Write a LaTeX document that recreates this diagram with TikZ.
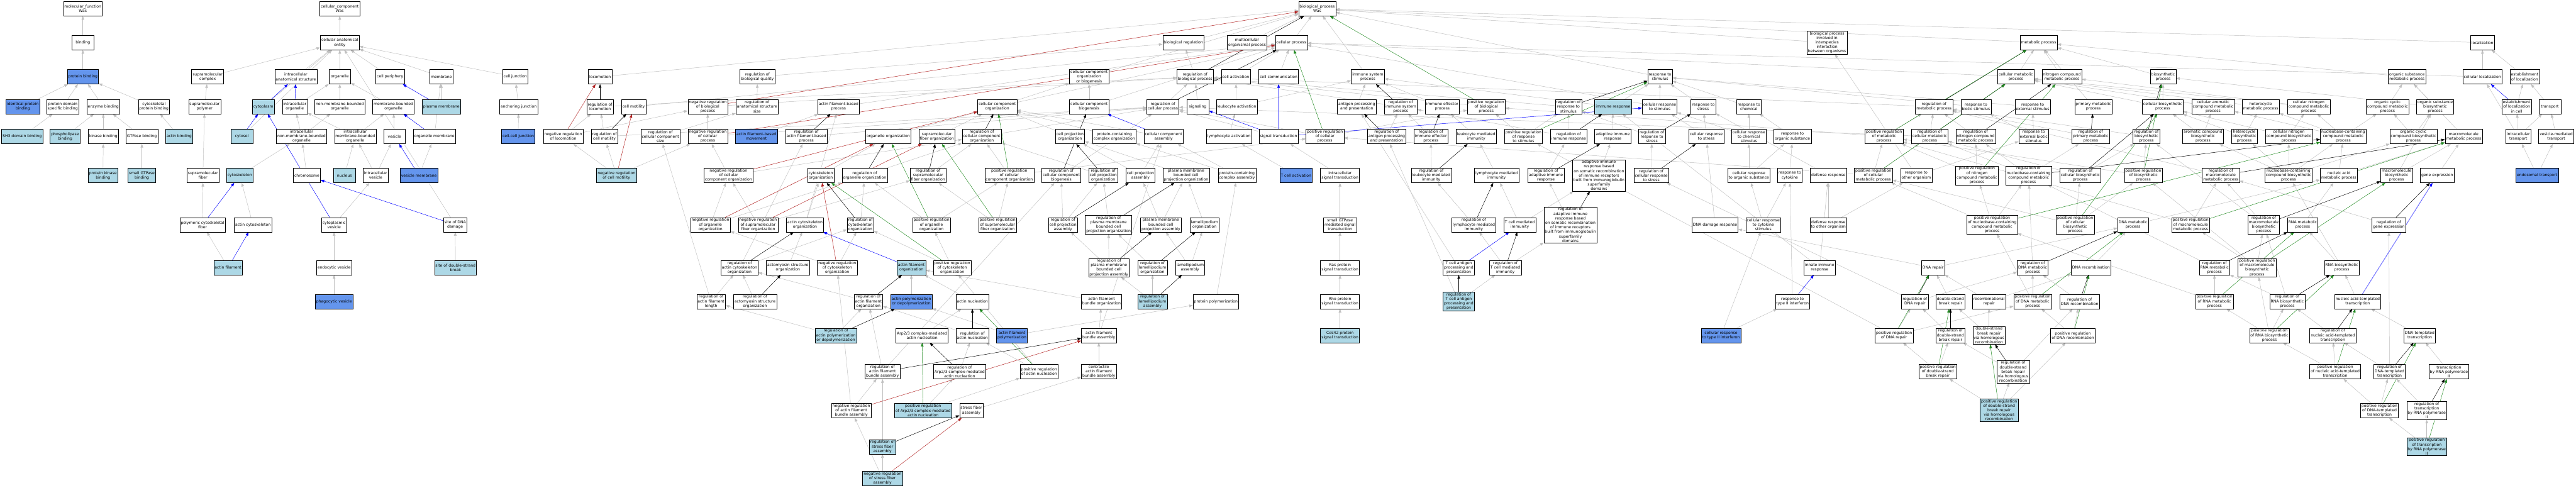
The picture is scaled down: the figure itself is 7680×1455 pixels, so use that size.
\documentclass[tikz,border=0pt]{standalone}
\usepackage{fontspec}
\setmainfont{DejaVu Sans}
\usepackage{xcolor}
\definecolor{hitblue}{HTML}{ADD8E6}
\definecolor{keyblue}{HTML}{6495ED}
\definecolor{isagray}{HTML}{C0C0C0}
\definecolor{partblue}{HTML}{0000FF}
\definecolor{negred}{HTML}{B22222}
\definecolor{posgreen}{HTML}{228B22}
\usepackage{tikz}
\usetikzlibrary{arrows.meta,backgrounds}

\begin{document}
\begin{tikzpicture}[x=1pt,y=-1pt,
  font=\fontsize{11.5}{13.5}\selectfont,
  term/.style={draw=black,fill=white,line width=0.9pt,align=center,
    inner xsep=3pt,inner ysep=2pt,minimum width=65pt,minimum height=43pt},
  hit/.style={term,fill=hitblue},
  key/.style={term,fill=keyblue},
  edge/.style={-{Triangle[length=11pt,width=8pt]},line width=0.9pt},
  isa/.style={edge,draw=isagray},
  partof/.style={edge,draw=partblue},
  reg/.style={edge,draw=black},
  negreg/.style={edge,draw=negred},
  posreg/.style={edge,draw=posgreen}]
\useasboundingbox (0,0) rectangle (7680,1455);
\node[term] (mf) at (247,26) {molecular\_function\\Was};
\node[term] (bind) at (247,127) {binding};
\node[key] (protbind) at (247,229) {protein binding};
\node[key] (identbind) at (68,318) {identical protein\\binding};
\node[term] (domainbind) at (187,318) {protein domain\\specific binding};
\node[term] (enzbind) at (308,318) {enzyme binding};
\node[term] (cytoskbind) at (459,318) {cytoskeletal\\protein binding};
\node[hit] (shbind) at (66,407) {SH3 domain binding};
\node[hit] (phosbind) at (194,407) {phospholipase\\binding};
\node[term] (kinbind) at (308,407) {kinase binding};
\node[term] (gtpbind) at (423,407) {GTPase binding};
\node[hit] (actbind) at (534,407) {actin binding};
\node[hit] (pkbind) at (307,523) {protein kinase\\binding};
\node[hit] (sgtpbind) at (423,523) {small GTPase\\binding};
\node[term] (cc) at (1013,26) {cellular\_component\\Was};
\node[term] (cae) at (1013,127) {cellular anatomical\\entity};
\node[term] (smcomplex) at (619,229) {supramolecular\\complex};
\node[term] (ias) at (882,229) {intracellular\\anatomical structure};
\node[term] (organelle) at (1013,229) {organelle};
\node[term] (periphery) at (1163,229) {cell periphery};
\node[term] (membrane) at (1316,229) {membrane};
\node[term] (junction) at (1536,229) {cell junction};
\node[term] (smpolymer) at (610,318) {supramolecular\\polymer};
\node[hit] (cytoplasm) at (785,318) {cytoplasm};
\node[term] (iorganelle) at (879,318) {intracellular\\organelle};
\node[term] (nmborg) at (1013,318) {non-membrane-bounded\\organelle};
\node[term] (mborg) at (1173,318) {membrane-bounded\\organelle};
\node[hit] (plasmamem) at (1316,318) {plasma membrane};
\node[term] (anchjunc) at (1546,318) {anchoring junction};
\node[hit] (cytosol) at (721,407) {cytosol};
\node[term] (inmborg) at (899,407) {intracellular\\non-membrane-bounded\\organelle};
\node[term] (imborg) at (1059,407) {intracellular\\membrane-bounded\\organelle};
\node[term] (vesicle) at (1176,407) {vesicle};
\node[term] (orgmem) at (1295,407) {organelle membrane};
\node[key] (ccjunc) at (1545,407) {cell-cell junction};
\node[term] (smfiber) at (605,523) {supramolecular\\fiber};
\node[hit] (cytoskel) at (715,523) {cytoskeleton};
\node[term] (chromosome) at (915,523) {chromosome};
\node[hit] (nucleus) at (1027,523) {nucleus};
\node[term] (ivesicle) at (1120,523) {intracellular\\vesicle};
\node[key] (vesmem) at (1249,523) {vesicle membrane};
\node[term] (pcfiber) at (604,670) {polymeric cytoskeletal\\fiber};
\node[term] (actcytosk) at (754,670) {actin cytoskeleton};
\node[term] (cpvesicle) at (996,670) {cytoplasmic\\vesicle};
\node[term] (dnadamsite) at (1357,670) {site of DNA\\damage};
\node[hit] (actfil) at (680,798) {actin filament};
\node[term] (endovesicle) at (996,798) {endocytic vesicle};
\node[hit] (dsbsite) at (1358,798) {site of double-strand\\break};
\node[key] (phagovesicle) at (996,899) {phagocytic vesicle};
\node[term] (bp) at (3927,26) {biological\_process\\Was};
\node[term] (bioreg) at (3528,127) {biological regulation};
\node[term] (multiorg) at (3718,127) {multicellular\\organismal process};
\node[term] (cellproc) at (3850,127) {cellular process};
\node[term] (interspecies) at (5447,127) {biological process\\involved in\\interspecies\\interaction\\between organisms};
\node[term] (metab) at (6078,127) {metabolic process};
\node[term] (localization) at (7401,127) {localization};
\node[term] (locomotion) at (1789,229) {locomotion};
\node[term] (regbioqual) at (2258,229) {regulation of\\biological quality};
\node[term] (ccob) at (3247,229) {cellular component\\organization\\or biogenesis};
\node[term] (regbp) at (3563,229) {regulation of\\biological process};
\node[term] (cellact) at (3684,229) {cell activation};
\node[term] (cellcomm) at (3812,229) {cell communication};
\node[term] (immsys) at (4078,229) {immune system\\process};
\node[term] (respstim) at (4949,229) {response to\\stimulus};
\node[term] (cellmetab) at (6010,229) {cellular metabolic\\process};
\node[term] (nitmetab) at (6147,229) {nitrogen compound\\metabolic process};
\node[term] (biosynth) at (6449,229) {biosynthetic\\process};
\node[term] (orgsubmetab) at (7176,229) {organic substance\\metabolic process};
\node[term] (cellloc) at (7401,229) {cellular localization};
\node[term] (estloc) at (7527,229) {establishment\\of localization};
\node[term] (reglocom) at (1789,318) {regulation of\\locomotion};
\node[term] (cellmot) at (1889,318) {cell motility};
\node[term] (negregbp) at (2110,318) {negative regulation\\of biological\\process};
\node[term] (regassize) at (2257,318) {regulation of\\anatomical structure\\size};
\node[term] (afbproc) at (2500,318) {actin filament-based\\process};
\node[term] (cco) at (2973,318) {cellular component\\organization};
\node[term] (ccbiog) at (3247,318) {cellular component\\biogenesis};
\node[term] (regcp) at (3467,318) {regulation of\\cellular process};
\node[term] (signaling) at (3571,318) {signaling};
\node[term] (leukact) at (3687,318) {leukocyte activation};
\node[term] (antigen) at (4045,318) {antigen processing\\and presentation};
\node[term] (regimmsys) at (4176,318) {regulation of\\immune system\\process};
\node[term] (immeff) at (4300,318) {immune effector\\process};
\node[term] (posregbp) at (4431,318) {positive regulation\\of biological\\process};
\node[term] (regrespstim) at (4676,318) {regulation of\\response to\\stimulus};
\node[hit] (immresp) at (4809,318) {immune response};
\node[term] (cellrespstim) at (4948,318) {cellular response\\to stimulus};
\node[term] (respstress) at (5078,318) {response to\\stress};
\node[term] (respchem) at (5214,318) {response to\\chemical};
\node[term] (regmetab) at (5766,318) {regulation of\\metabolic process};
\node[term] (respbiotic) at (5891,318) {response to\\biotic stimulus};
\node[term] (respext) at (6060,318) {response to\\external stimulus};
\node[term] (primmetab) at (6241,318) {primary metabolic\\process};
\node[term] (cellbiosynth) at (6448,318) {cellular biosynthetic\\process};
\node[term] (arommetab) at (6598,318) {cellular aromatic\\compound metabolic\\process};
\node[term] (hetmetab) at (6740,318) {heterocycle\\metabolic process};
\node[term] (cnitmetab) at (6883,318) {cellular nitrogen\\compound metabolic\\process};
\node[term] (cycmetab) at (7118,318) {organic cyclic\\compound metabolic\\process};
\node[term] (orgsubbiosynth) at (7260,318) {organic substance\\biosynthetic\\process};
\node[term] (estloccell) at (7503,318) {establishment\\of localization\\in cell};
\node[term] (transport) at (7602,318) {transport};
\node[term] (negreglocom) at (1679,407) {negative regulation\\of locomotion};
\node[term] (regcellmot) at (1802,407) {regulation of\\cell motility};
\node[term] (regccsize) at (1969,407) {regulation of\\cellular component\\size};
\node[term] (negregcp) at (2110,407) {negative regulation\\of cellular\\process};
\node[key] (afbmove) at (2255,407) {actin filament-based\\movement};
\node[term] (regafbproc) at (2404,407) {regulation of\\actin filament-based\\process};
\node[term] (orgorg) at (2648,407) {organelle organization};
\node[term] (smforg) at (2793,407) {supramolecular\\fiber organization};
\node[term] (regcco) at (2927,407) {regulation of\\cellular component\\organization};
\node[term] (cporg) at (3190,407) {cell projection\\organization};
\node[term] (pccorg) at (3322,407) {protein-containing\\complex organization};
\node[term] (ccassembly) at (3469,407) {cellular component\\assembly};
\node[term] (lymphact) at (3664,407) {lymphocyte activation};
\node[term] (sigtrans) at (3812,407) {signal transduction};
\node[term] (posregcp) at (3950,407) {positive regulation\\of cellular\\process};
\node[term] (regantigen) at (4134,407) {regulation of\\antigen processing\\and presentation};
\node[term] (regimmeff) at (4266,407) {regulation of\\immune effector\\process};
\node[term] (leukimm) at (4401,407) {leukocyte mediated\\immunity};
\node[term] (posregrespstim) at (4542,407) {positive regulation\\of response\\to stimulus};
\node[term] (regimmresp) at (4677,407) {regulation of\\immune response};
\node[term] (adaptimm) at (4808,407) {adaptive immune\\response};
\node[term] (regrespstress) at (4925,407) {regulation of\\response to\\stress};
\node[term] (cellrespstress) at (5087,407) {cellular response\\to stress};
\node[term] (cellrespchem) at (5214,407) {cellular response\\to chemical\\stimulus};
\node[term] (resporgsub) at (5344,407) {response to\\organic substance};
\node[term] (posregmetab) at (5617,407) {positive regulation\\of metabolic\\process};
\node[term] (regcellmetab) at (5753,407) {regulation of\\cellular metabolic\\process};
\node[term] (regnitmetab) at (5890,407) {regulation of\\nitrogen compound\\metabolic process};
\node[term] (respextbiotic) at (6063,407) {response to\\external biotic\\stimulus};
\node[term] (regprimmetab) at (6233,407) {regulation of\\primary metabolic\\process};
\node[term] (regbiosynth) at (6399,407) {regulation of\\biosynthetic\\process};
\node[term] (aromsynth) at (6568,407) {aromatic compound\\biosynthetic\\process};
\node[term] (hetsynth) at (6691,407) {heterocycle\\biosynthetic\\process};
\node[term] (cnitsynth) at (6824,407) {cellular nitrogen\\compound biosynthetic\\process};
\node[term] (nbmetab) at (6986,407) {nucleobase-containing\\compound metabolic\\process};
\node[term] (cycsynth) at (7195,407) {organic cyclic\\compound biosynthetic\\process};
\node[term] (macrometab) at (7345,407) {macromolecule\\metabolic process};
\node[term] (inttransport) at (7508,407) {intracellular\\transport};
\node[term] (vestransport) at (7621,407) {vesicle-mediated\\transport};
\node[hit] (negregcellmot) at (1838,523) {negative regulation\\of cell motility};
\node[term] (negregcco) at (2172,523) {negative regulation\\of cellular\\component organization};
\node[term] (cytoskorg) at (2447,523) {cytoskeleton\\organization};
\node[term] (regorgorg) at (2578,523) {regulation of\\organelle organization};
\node[term] (regsmforg) at (2767,523) {regulation of\\supramolecular\\fiber organization};
\node[term] (posregcco) at (3009,523) {positive regulation\\of cellular\\component organization};
\node[term] (regccbiog) at (3164,523) {regulation of\\cellular component\\biogenesis};
\node[term] (regcporg) at (3289,523) {regulation of\\cell projection\\organization};
\node[term] (cpassembly) at (3400,523) {cell projection\\assembly};
\node[term] (pmbcporg) at (3536,523) {plasma membrane\\bounded cell\\projection organization};
\node[term] (pccassembly) at (3688,523) {protein-containing\\complex assembly};
\node[key] (tcellact) at (3864,523) {T cell activation};
\node[term] (intsigtrans) at (3995,523) {intracellular\\signal transduction};
\node[term] (regleukimm) at (4267,523) {regulation of\\leukocyte mediated\\immunity};
\node[term] (lymphimm) at (4462,523) {lymphocyte mediated\\immunity};
\node[term] (regadaptimm) at (4609,523) {regulation of\\adaptive immune\\response};
\node[term] (adaptig) at (4767,523) {adaptive immune\\response based\\on somatic recombination\\of immune receptors\\built from immunoglobulin\\superfamily\\domains};
\node[term] (regcellrespstress) at (4923,523) {regulation of\\cellular response\\to stress};
\node[term] (cellresporgsub) at (5214,523) {cellular response\\to organic substance};
\node[term] (respcytokine) at (5336,523) {response to\\cytokine};
\node[term] (defresp) at (5451,523) {defense response};
\node[term] (posregcellmetab) at (5585,523) {positive regulation\\of cellular\\metabolic process};
\node[term] (respotherorg) at (5713,523) {response to\\other organism};
\node[term] (posregnitmetab) at (5894,523) {positive regulation\\of nitrogen\\compound metabolic\\process};
\node[term] (regnbmetab) at (6048,523) {regulation of\\nucleobase-containing\\compound metabolic\\process};
\node[term] (regcellbiosynth) at (6202,523) {regulation of\\cellular biosynthetic\\process};
\node[term] (posregbiosynth) at (6390,523) {positive regulation\\of biosynthetic\\process};
\node[term] (regmacrometab) at (6621,523) {regulation of\\macromolecule\\metabolic process};
\node[term] (nbsynth) at (6823,523) {nucleobase-containing\\compound biosynthetic\\process};
\node[term] (nucmetab) at (6973,523) {nucleic acid\\metabolic process};
\node[term] (macrosynth) at (7145,523) {macromolecule\\biosynthetic\\process};
\node[term] (geneexpr) at (7266,523) {gene expression};
\node[key] (endotransport) at (7564,523) {endosomal transport};
\node[term] (negregorgorg) at (2118,670) {negative regulation\\of organelle\\organization};
\node[term] (negregsmforg) at (2260,670) {negative regulation\\of supramolecular\\fiber organization};
\node[term] (actcytoskorg) at (2400,670) {actin cytoskeleton\\organization};
\node[term] (regcytoskorg) at (2565,670) {regulation of\\cytoskeleton\\organization};
\node[term] (posregorgorg) at (2777,670) {positive regulation\\of organelle\\organization};
\node[term] (posregsmforg) at (2974,670) {positive regulation\\of supramolecular\\fiber organization};
\node[term] (regcpassembly) at (3169,670) {regulation of\\cell projection\\assembly};
\node[term] (regpmbcporg) at (3305,670) {regulation of\\plasma membrane\\bounded cell\\projection organization};
\node[term] (pmbcpassembly) at (3461,670) {plasma membrane\\bounded cell\\projection assembly};
\node[term] (lamorg) at (3591,670) {lamellipodium\\organization};
\node[term] (smallgtp) at (3995,670) {small GTPase\\mediated signal\\transduction};
\node[term] (reglymphimm) at (4394,670) {regulation of\\lymphocyte mediated\\immunity};
\node[term] (tcellimm) at (4531,670) {T cell mediated\\immunity};
\node[term] (regadaptig) at (4682,671) {regulation of\\adaptive immune\\response based\\on somatic recombination\\of immune receptors\\built from immunoglobulin\\superfamily\\domains};
\node[term] (dnadamresp) at (5113,670) {DNA damage response};
\node[term] (cellrespcytokine) at (5257,670) {cellular response\\to cytokine\\stimulus};
\node[term] (defrespother) at (5451,670) {defense response\\to other organism};
\node[term] (posregnbmetab) at (5939,670) {positive regulation\\of nucleobase-containing\\compound metabolic\\process};
\node[term] (posregcellbiosynth) at (6187,670) {positive regulation\\of cellular\\biosynthetic\\process};
\node[term] (dnametab) at (6359,670) {DNA metabolic\\process};
\node[term] (posregmacrometab) at (6531,670) {positive regulation\\of macromolecule\\metabolic process};
\node[term] (regmacrosynth) at (6749,670) {regulation of\\macromolecule\\biosynthetic\\process};
\node[term] (rnametab) at (6865,670) {RNA metabolic\\process};
\node[term] (reggeneexpr) at (7122,670) {regulation of\\gene expression};
\node[term] (regactcytoskorg) at (2205,798) {regulation of\\actin cytoskeleton\\organization};
\node[term] (actomyorg) at (2349,798) {actomyosin structure\\organization};
\node[term] (negregcytoskorg) at (2496,798) {negative regulation\\of cytoskeleton\\organization};
\node[hit] (actfilorg) at (2717,798) {actin filament\\organization};
\node[term] (posregcytoskorg) at (2839,798) {positive regulation\\of cytoskeleton\\organization};
\node[term] (regpmbcpassembly) at (3306,798) {regulation of\\plasma membrane\\bounded cell\\projection assembly};
\node[term] (reglamorg) at (3436,798) {regulation of\\lamellipodium\\organization};
\node[term] (lamassembly) at (3548,798) {lamellipodium\\assembly};
\node[term] (rasst) at (3995,798) {Ras protein\\signal transduction};
\node[term] (tcellantigen) at (4349,798) {T cell antigen\\processing and\\presentation};
\node[term] (regtcellimm) at (4488,798) {regulation of\\T cell mediated\\immunity};
\node[term] (innateimm) at (5425,798) {innate immune\\response};
\node[term] (dnarepair) at (5763,798) {DNA repair};
\node[term] (regdnametab) at (6060,798) {regulation of\\DNA metabolic\\process};
\node[term] (dnarecomb) at (6234,798) {DNA recombination};
\node[term] (regrnametab) at (6602,798) {regulation of\\RNA metabolic\\process};
\node[term] (posregmacrosynth) at (6729,798) {positive regulation\\of macromolecule\\biosynthetic\\process};
\node[term] (rnasynth) at (6982,798) {RNA biosynthetic\\process};
\node[term] (regactfillen) at (2120,899) {regulation of\\actin filament\\length};
\node[term] (regactomyorg) at (2251,899) {regulation of\\actomyosin structure\\organization};
\node[term] (regactfilorg) at (2589,899) {regulation of\\actin filament\\organization};
\node[key] (actpoly) at (2717,899) {actin polymerization\\or depolymerization};
\node[term] (actnuc) at (2899,899) {actin nucleation};
\node[term] (afbundleorg) at (3284,899) {actin filament\\bundle organization};
\node[hit] (reglamassembly) at (3436,899) {regulation of\\lamellipodium\\assembly};
\node[term] (protpoly) at (3625,899) {protein polymerization};
\node[term] (rhost) at (3995,899) {Rho protein\\signal transduction};
\node[hit] (regtcellantigen) at (4349,899) {regulation of\\T cell antigen\\processing and\\presentation};
\node[term] (resptypeII) at (5344,899) {response to\\type II interferon};
\node[term] (regdnarepair) at (5709,899) {regulation of\\DNA repair};
\node[term] (dsbrepair) at (5815,899) {double-strand\\break repair};
\node[term] (recombrepair) at (5930,899) {recombinational\\repair};
\node[term] (posregdnametab) at (6060,899) {positive regulation\\of DNA metabolic\\process};
\node[term] (regdnarecomb) at (6200,899) {regulation of\\DNA recombination};
\node[term] (posregrnametab) at (6602,899) {positive regulation\\of RNA metabolic\\process};
\node[term] (regrnasynth) at (6819,899) {regulation of\\RNA biosynthetic\\process};
\node[term] (natranscr) at (7029,899) {nucleic acid-templated\\transcription};
\node[hit] (regactpoly) at (2492,1000) {regulation of\\actin polymerization\\or depolymerization};
\node[term] (arpnuc) at (2749,1000) {Arp2/3 complex-mediated\\actin nucleation};
\node[term] (regactnuc) at (2899,1000) {regulation of\\actin nucleation};
\node[key] (actfilpoly) at (3017,1000) {actin filament\\polymerization};
\node[term] (afbundleassembly) at (3276,1000) {actin filament\\bundle assembly};
\node[hit] (cdc42st) at (3995,1000) {Cdc42 protein\\signal transduction};
\node[key] (cellresptypeII) at (5131,1000) {cellular response\\to type II interferon};
\node[term] (posregdnarepair) at (5647,1000) {positive regulation\\of DNA repair};
\node[term] (regdsbrepair) at (5815,1000) {regulation of\\double-strand\\break repair};
\node[term] (dsbhr) at (5930,1000) {double-strand\\break repair\\via homologous\\recombination};
\node[term] (posregdnarecomb) at (6180,1000) {positive regulation\\of DNA recombination};
\node[term] (posregrnasynth) at (6766,1000) {positive regulation\\of RNA biosynthetic\\process};
\node[term] (regnatranscr) at (6955,1000) {regulation of\\nucleic acid-templated\\transcription};
\node[term] (dnatranscr) at (7214,1000) {DNA-templated\\transcription};
\node[term] (regafbundle) at (2631,1108) {regulation of\\actin filament\\bundle assembly};
\node[term] (regarpnuc) at (2861,1108) {regulation of\\Arp2/3 complex-mediated\\actin nucleation};
\node[term] (posregactnuc) at (3098,1108) {positive regulation\\of actin nucleation};
\node[term] (contrbundle) at (3276,1108) {contractile\\actin filament\\bundle assembly};
\node[term] (posregdsbrepair) at (5777,1108) {positive regulation\\of double-strand\\break repair};
\node[term] (regdsbhr) at (6002,1108) {regulation of\\double-strand\\break repair\\via homologous\\recombination};
\node[term] (posregnatranscr) at (6962,1108) {positive regulation\\of nucleic acid-templated\\transcription};
\node[term] (regdnatranscr) at (7124,1108) {regulation of\\DNA-templated\\transcription};
\node[term] (rnapol2) at (7301,1108) {transcription\\by RNA polymerase\\II};
\node[term] (negregafbundle) at (2538,1224) {negative regulation\\of actin filament\\bundle assembly};
\node[hit] (posregarpnuc) at (2752,1224) {positive regulation\\of Arp2/3 complex-mediated\\actin nucleation};
\node[term] (stressfiber) at (2896,1224) {stress fiber\\assembly};
\node[hit] (posregdsbhr) at (5960,1223) {positive regulation\\of double-strand\\break repair\\via homologous\\recombination};
\node[term] (posregdnatranscr) at (7094,1224) {positive regulation\\of DNA-templated\\transcription};
\node[term] (regrnapol2) at (7235,1224) {regulation of\\transcription\\by RNA polymerase\\II};
\node[hit] (regstressfiber) at (2631,1332) {regulation of\\stress fiber\\assembly};
\node[hit] (posregrnapol2) at (7235,1332) {positive regulation\\of transcription\\by RNA polymerase\\II};
\node[hit] (negregstressfiber) at (2631,1426) {negative regulation\\of stress fiber\\assembly};
\begin{scope}[on background layer]
\fill[white] (0,0) rectangle (7680,1455);
\draw[isa] (bind) -- (mf);
\draw[isa] (protbind) -- (bind);
\draw[isa] (identbind) -- (protbind);
\draw[isa] (domainbind) -- (protbind);
\draw[isa] (enzbind) -- (protbind);
\draw[isa] (cytoskbind) -- (protbind);
\draw[isa] (shbind) -- (domainbind);
\draw[isa] (phosbind) -- (enzbind);
\draw[isa] (kinbind) -- (enzbind);
\draw[isa] (gtpbind) -- (enzbind);
\draw[isa] (actbind) -- (cytoskbind);
\draw[isa] (pkbind) -- (kinbind);
\draw[isa] (sgtpbind) -- (gtpbind);
\draw[isa] (cae) -- (cc);
\draw[isa] (smcomplex) -- (cae);
\draw[isa] (ias) -- (cae);
\draw[isa] (organelle) -- (cae);
\draw[isa] (periphery) -- (cae);
\draw[isa] (membrane) -- (cae);
\draw[isa] (junction) -- (cae);
\draw[isa] (cytoplasm) -- (cae);
\draw[isa] (cytosol) -- (cae);
\draw[isa] (iorganelle) -- (organelle);
\draw[isa] (nmborg) -- (organelle);
\draw[isa] (mborg) -- (organelle);
\draw[isa] (plasmamem) -- (membrane);
\draw[isa] (smpolymer) -- (smcomplex);
\draw[isa] (inmborg) -- (iorganelle);
\draw[isa] (inmborg) -- (nmborg);
\draw[isa] (imborg) -- (iorganelle);
\draw[isa] (imborg) -- (mborg);
\draw[isa] (vesicle) -- (mborg);
\draw[isa] (orgmem) -- (membrane);
\draw[isa] (smfiber) -- (smpolymer);
\draw[isa] (cytoskel) -- (inmborg);
\draw[isa] (chromosome) -- (inmborg);
\draw[isa] (nucleus) -- (imborg);
\draw[isa] (ivesicle) -- (vesicle);
\draw[isa] (ivesicle) -- (imborg);
\draw[isa] (vesmem) -- (orgmem);
\draw[isa] (pcfiber) -- (smfiber);
\draw[isa] (actcytosk) -- (cytoskel);
\draw[isa] (cpvesicle) -- (ivesicle);
\draw[isa] (actfil) -- (pcfiber);
\draw[isa] (endovesicle) -- (cpvesicle);
\draw[isa] (phagovesicle) -- (endovesicle);
\draw[isa] (dnadamsite) -- (cae);
\draw[isa] (dsbsite) -- (dnadamsite);
\draw[isa] (anchjunc) -- (junction);
\draw[isa] (ccjunc) -- (anchjunc);
\draw[isa] (bioreg) -- (bp);
\draw[isa] (multiorg) -- (bp);
\draw[isa] (cellproc) -- (bp);
\draw[isa] (immsys) -- (bp);
\draw[isa] (respstim) -- (bp);
\draw[isa] (metab) -- (bp);
\draw[isa] (localization) -- (bp);
\draw[isa] (locomotion) -- (bp);
\draw[isa] (ccob) -- (bp);
\draw[isa] (interspecies) -- (bp);
\draw[isa] (regbioqual) -- (bioreg);
\draw[isa] (regbp) -- (bioreg);
\draw[isa] (regassize) -- (regbioqual);
\draw[isa] (regccsize) -- (regassize);
\draw[isa] (reglocom) -- (regbp);
\draw[isa] (cellmot) -- (cellproc);
\draw[isa] (negreglocom) -- (reglocom);
\draw[isa] (negreglocom) -- (negregbp);
\draw[isa] (regcellmot) -- (reglocom);
\draw[isa] (regcellmot) -- (regcp);
\draw[isa] (negregcellmot) -- (negreglocom);
\draw[isa] (negregcellmot) -- (regcellmot);
\draw[isa] (negregcellmot) -- (negregcp);
\draw[isa] (negregbp) -- (regbp);
\draw[isa] (negregcp) -- (negregbp);
\draw[isa] (negregcp) -- (regcp);
\draw[isa] (afbproc) -- (cellproc);
\draw[isa] (afbmove) -- (afbproc);
\draw[isa] (regafbproc) -- (regcp);
\draw[isa] (cco) -- (ccob);
\draw[isa] (cco) -- (cellproc);
\draw[isa] (ccbiog) -- (ccob);
\draw[isa] (ccbiog) -- (cellproc);
\draw[isa] (regcp) -- (regbp);
\draw[isa] (signaling) -- (regbp);
\draw[isa] (cellact) -- (cellproc);
\draw[isa] (cellcomm) -- (cellproc);
\draw[isa] (leukact) -- (cellact);
\draw[isa] (leukact) -- (immsys);
\draw[isa] (lymphact) -- (leukact);
\draw[isa] (tcellact) -- (lymphact);
\draw[isa] (sigtrans) -- (regcp);
\draw[isa] (intsigtrans) -- (sigtrans);
\draw[isa] (smallgtp) -- (intsigtrans);
\draw[isa] (rasst) -- (smallgtp);
\draw[isa] (rhost) -- (rasst);
\draw[isa] (cdc42st) -- (rhost);
\draw[isa] (orgorg) -- (cco);
\draw[isa] (smforg) -- (cco);
\draw[isa] (cporg) -- (cco);
\draw[isa] (pccorg) -- (cco);
\draw[isa] (ccassembly) -- (cco);
\draw[isa] (regcco) -- (regcp);
\draw[isa] (negregcco) -- (negregcp);
\draw[isa] (negregcco) -- (regcco);
\draw[isa] (posregcco) -- (regcco);
\draw[isa] (posregcco) -- (posregcp);
\draw[isa] (regccbiog) -- (regcp);
\draw[isa] (cytoskorg) -- (orgorg);
\draw[isa] (regorgorg) -- (regcco);
\draw[isa] (regsmforg) -- (regcco);
\draw[isa] (regcporg) -- (regcco);
\draw[isa] (cpassembly) -- (cporg);
\draw[isa] (cpassembly) -- (ccassembly);
\draw[isa] (pmbcporg) -- (cporg);
\draw[isa] (pccassembly) -- (pccorg);
\draw[isa] (pccassembly) -- (ccassembly);
\draw[isa] (negregorgorg) -- (negregcco);
\draw[isa] (negregorgorg) -- (regorgorg);
\draw[isa] (negregsmforg) -- (negregcco);
\draw[isa] (negregsmforg) -- (regsmforg);
\draw[isa] (actcytoskorg) -- (cytoskorg);
\draw[isa] (actcytoskorg) -- (afbproc);
\draw[isa] (regcytoskorg) -- (regorgorg);
\draw[isa] (posregorgorg) -- (regorgorg);
\draw[isa] (posregorgorg) -- (posregcco);
\draw[isa] (posregsmforg) -- (regsmforg);
\draw[isa] (posregsmforg) -- (posregcco);
\draw[isa] (regcpassembly) -- (regcporg);
\draw[isa] (regcpassembly) -- (regccbiog);
\draw[isa] (regpmbcporg) -- (regcporg);
\draw[isa] (pmbcpassembly) -- (cpassembly);
\draw[isa] (pmbcpassembly) -- (pmbcporg);
\draw[isa] (lamorg) -- (pmbcporg);
\draw[isa] (regactcytoskorg) -- (regcytoskorg);
\draw[isa] (regactcytoskorg) -- (regafbproc);
\draw[isa] (actomyorg) -- (actcytoskorg);
\draw[isa] (negregcytoskorg) -- (regcytoskorg);
\draw[isa] (negregcytoskorg) -- (negregorgorg);
\draw[isa] (posregcytoskorg) -- (regcytoskorg);
\draw[isa] (posregcytoskorg) -- (posregorgorg);
\draw[isa] (regpmbcpassembly) -- (regpmbcporg);
\draw[isa] (regpmbcpassembly) -- (regcpassembly);
\draw[isa] (reglamorg) -- (regpmbcporg);
\draw[isa] (lamassembly) -- (lamorg);
\draw[isa] (lamassembly) -- (pmbcpassembly);
\draw[isa] (regactfillen) -- (regactcytoskorg);
\draw[isa] (regactfillen) -- (regccsize);
\draw[isa] (regactomyorg) -- (regactcytoskorg);
\draw[isa] (regactfilorg) -- (regactcytoskorg);
\draw[isa] (actpoly) -- (actfilorg);
\draw[isa] (actnuc) -- (actfilorg);
\draw[isa] (afbundleorg) -- (actfilorg);
\draw[isa] (reglamassembly) -- (regpmbcpassembly);
\draw[isa] (reglamassembly) -- (reglamorg);
\draw[isa] (protpoly) -- (pccassembly);
\draw[isa] (regactpoly) -- (regactfillen);
\draw[isa] (regactpoly) -- (regactfilorg);
\draw[isa] (arpnuc) -- (actnuc);
\draw[isa] (regactnuc) -- (regactfilorg);
\draw[isa] (actfilpoly) -- (actpoly);
\draw[isa] (actfilpoly) -- (protpoly);
\draw[isa] (afbundleassembly) -- (afbundleorg);
\draw[isa] (afbundleassembly) -- (ccassembly);
\draw[isa] (regafbundle) -- (regactfilorg);
\draw[isa] (regafbundle) -- (regccbiog);
\draw[isa] (regarpnuc) -- (regactnuc);
\draw[isa] (posregactnuc) -- (regactnuc);
\draw[isa] (posregactnuc) -- (posregcytoskorg);
\draw[isa] (contrbundle) -- (afbundleassembly);
\draw[isa] (negregafbundle) -- (regafbundle);
\draw[isa] (negregafbundle) -- (negregcytoskorg);
\draw[isa] (posregarpnuc) -- (regarpnuc);
\draw[isa] (posregarpnuc) -- (posregactnuc);
\draw[isa] (stressfiber) -- (contrbundle);
\draw[isa] (regstressfiber) -- (regafbundle);
\draw[isa] (negregstressfiber) -- (regstressfiber);
\draw[isa] (negregstressfiber) -- (negregafbundle);
\draw[isa] (antigen) -- (immsys);
\draw[isa] (regimmsys) -- (regbp);
\draw[isa] (immeff) -- (immsys);
\draw[isa] (posregbp) -- (regbp);
\draw[isa] (regrespstim) -- (regbp);
\draw[isa] (immresp) -- (immsys);
\draw[isa] (immresp) -- (respstim);
\draw[isa] (cellrespstim) -- (respstim);
\draw[isa] (cellrespstim) -- (cellproc);
\draw[isa] (respstress) -- (respstim);
\draw[isa] (posregcp) -- (regcp);
\draw[isa] (posregcp) -- (posregbp);
\draw[isa] (regantigen) -- (regimmsys);
\draw[isa] (regimmeff) -- (regimmsys);
\draw[isa] (leukimm) -- (immeff);
\draw[isa] (posregrespstim) -- (regrespstim);
\draw[isa] (posregrespstim) -- (posregbp);
\draw[isa] (regimmresp) -- (regrespstim);
\draw[isa] (regimmresp) -- (regimmsys);
\draw[isa] (adaptimm) -- (immresp);
\draw[isa] (regrespstress) -- (regrespstim);
\draw[isa] (cellrespstress) -- (respstress);
\draw[isa] (cellrespstress) -- (cellrespstim);
\draw[isa] (regleukimm) -- (regimmeff);
\draw[isa] (lymphimm) -- (leukimm);
\draw[isa] (regadaptimm) -- (regimmresp);
\draw[isa] (adaptig) -- (adaptimm);
\draw[isa] (regcellrespstress) -- (regrespstress);
\draw[isa] (reglymphimm) -- (regleukimm);
\draw[isa] (tcellimm) -- (lymphimm);
\draw[isa] (tcellimm) -- (adaptig);
\draw[isa] (regadaptig) -- (regadaptimm);
\draw[isa] (dnadamresp) -- (cellrespstress);
\draw[isa] (tcellantigen) -- (antigen);
\draw[isa] (regtcellimm) -- (reglymphimm);
\draw[isa] (regtcellimm) -- (regadaptig);
\draw[isa] (regtcellantigen) -- (regtcellimm);
\draw[isa] (regtcellantigen) -- (regantigen);
\draw[isa] (respchem) -- (respstim);
\draw[isa] (respbiotic) -- (respstim);
\draw[isa] (respext) -- (respstim);
\draw[isa] (cellrespchem) -- (respchem);
\draw[isa] (cellrespchem) -- (cellrespstim);
\draw[isa] (resporgsub) -- (respchem);
\draw[isa] (respextbiotic) -- (respext);
\draw[isa] (respextbiotic) -- (respbiotic);
\draw[isa] (cellresporgsub) -- (cellrespchem);
\draw[isa] (cellresporgsub) -- (resporgsub);
\draw[isa] (respcytokine) -- (resporgsub);
\draw[isa] (defresp) -- (respstress);
\draw[isa] (respotherorg) -- (respextbiotic);
\draw[isa] (respotherorg) -- (interspecies);
\draw[isa] (cellrespcytokine) -- (respcytokine);
\draw[isa] (cellrespcytokine) -- (cellresporgsub);
\draw[isa] (defrespother) -- (defresp);
\draw[isa] (defrespother) -- (respotherorg);
\draw[isa] (innateimm) -- (defresp);
\draw[isa] (innateimm) -- (immresp);
\draw[isa] (resptypeII) -- (respcytokine);
\draw[isa] (cellresptypeII) -- (resptypeII);
\draw[isa] (cellresptypeII) -- (cellrespcytokine);
\draw[isa] (cellmetab) -- (metab);
\draw[isa] (cellmetab) -- (cellproc);
\draw[isa] (nitmetab) -- (metab);
\draw[isa] (regmetab) -- (regbp);
\draw[isa] (primmetab) -- (metab);
\draw[isa] (biosynth) -- (metab);
\draw[isa] (orgsubmetab) -- (metab);
\draw[isa] (posregmetab) -- (regmetab);
\draw[isa] (posregmetab) -- (posregbp);
\draw[isa] (regcellmetab) -- (regmetab);
\draw[isa] (regcellmetab) -- (regcp);
\draw[isa] (regnitmetab) -- (regmetab);
\draw[isa] (regprimmetab) -- (regmetab);
\draw[isa] (regbiosynth) -- (regmetab);
\draw[isa] (posregcellmetab) -- (posregmetab);
\draw[isa] (posregcellmetab) -- (regcellmetab);
\draw[isa] (posregcellmetab) -- (posregcp);
\draw[isa] (posregnitmetab) -- (regnitmetab);
\draw[isa] (posregnitmetab) -- (posregmetab);
\draw[isa] (regnbmetab) -- (regcellmetab);
\draw[isa] (regnbmetab) -- (regnitmetab);
\draw[isa] (regnbmetab) -- (regprimmetab);
\draw[isa] (regcellbiosynth) -- (regbiosynth);
\draw[isa] (regcellbiosynth) -- (regcellmetab);
\draw[isa] (posregbiosynth) -- (regbiosynth);
\draw[isa] (posregbiosynth) -- (posregmetab);
\draw[isa] (posregnbmetab) -- (regnbmetab);
\draw[isa] (posregnbmetab) -- (posregnitmetab);
\draw[isa] (posregnbmetab) -- (posregcellmetab);
\draw[isa] (posregcellbiosynth) -- (regcellbiosynth);
\draw[isa] (posregcellbiosynth) -- (posregbiosynth);
\draw[isa] (posregcellbiosynth) -- (posregcellmetab);
\draw[isa] (cellbiosynth) -- (biosynth);
\draw[isa] (cellbiosynth) -- (cellmetab);
\draw[isa] (arommetab) -- (cellmetab);
\draw[isa] (hetmetab) -- (cellmetab);
\draw[isa] (cnitmetab) -- (nitmetab);
\draw[isa] (cnitmetab) -- (cellmetab);
\draw[isa] (cycmetab) -- (orgsubmetab);
\draw[isa] (orgsubbiosynth) -- (orgsubmetab);
\draw[isa] (orgsubbiosynth) -- (biosynth);
\draw[isa] (aromsynth) -- (arommetab);
\draw[isa] (aromsynth) -- (cellbiosynth);
\draw[isa] (hetsynth) -- (hetmetab);
\draw[isa] (hetsynth) -- (cellbiosynth);
\draw[isa] (cnitsynth) -- (cnitmetab);
\draw[isa] (cnitsynth) -- (cellbiosynth);
\draw[isa] (nbmetab) -- (arommetab);
\draw[isa] (nbmetab) -- (hetmetab);
\draw[isa] (nbmetab) -- (cnitmetab);
\draw[isa] (nbmetab) -- (cycmetab);
\draw[isa] (cycsynth) -- (cycmetab);
\draw[isa] (cycsynth) -- (orgsubbiosynth);
\draw[isa] (macrometab) -- (orgsubmetab);
\draw[isa] (regmacrometab) -- (regmetab);
\draw[isa] (nbsynth) -- (nbmetab);
\draw[isa] (nbsynth) -- (aromsynth);
\draw[isa] (nbsynth) -- (hetsynth);
\draw[isa] (nbsynth) -- (cnitsynth);
\draw[isa] (nbsynth) -- (cycsynth);
\draw[isa] (nucmetab) -- (nbmetab);
\draw[isa] (nucmetab) -- (macrometab);
\draw[isa] (macrosynth) -- (macrometab);
\draw[isa] (macrosynth) -- (orgsubbiosynth);
\draw[isa] (geneexpr) -- (macrometab);
\draw[isa] (regmacrosynth) -- (regmacrometab);
\draw[isa] (regmacrosynth) -- (regbiosynth);
\draw[isa] (posregmacrometab) -- (regmacrometab);
\draw[isa] (posregmacrometab) -- (posregmetab);
\draw[isa] (rnametab) -- (nucmetab);
\draw[isa] (reggeneexpr) -- (regmacrometab);
\draw[isa] (dnametab) -- (nucmetab);
\draw[isa] (regrnametab) -- (regnbmetab);
\draw[isa] (posregmacrosynth) -- (regmacrosynth);
\draw[isa] (posregmacrosynth) -- (posregmacrometab);
\draw[isa] (posregmacrosynth) -- (posregbiosynth);
\draw[isa] (rnasynth) -- (rnametab);
\draw[isa] (rnasynth) -- (nbsynth);
\draw[isa] (posregrnametab) -- (regrnametab);
\draw[isa] (posregrnametab) -- (posregnbmetab);
\draw[isa] (regrnasynth) -- (regrnametab);
\draw[isa] (regrnasynth) -- (regmacrosynth);
\draw[isa] (natranscr) -- (rnasynth);
\draw[isa] (posregrnasynth) -- (regrnasynth);
\draw[isa] (posregrnasynth) -- (posregrnametab);
\draw[isa] (posregrnasynth) -- (posregmacrosynth);
\draw[isa] (regnatranscr) -- (regrnasynth);
\draw[isa] (dnatranscr) -- (natranscr);
\draw[isa] (posregnatranscr) -- (regnatranscr);
\draw[isa] (posregnatranscr) -- (posregrnasynth);
\draw[isa] (regdnatranscr) -- (regnatranscr);
\draw[isa] (regdnatranscr) -- (reggeneexpr);
\draw[isa] (rnapol2) -- (dnatranscr);
\draw[isa] (posregdnatranscr) -- (regdnatranscr);
\draw[isa] (posregdnatranscr) -- (posregnatranscr);
\draw[isa] (regrnapol2) -- (regdnatranscr);
\draw[isa] (posregrnapol2) -- (regrnapol2);
\draw[isa] (posregrnapol2) -- (posregdnatranscr);
\draw[isa] (dnarepair) -- (dnametab);
\draw[isa] (dnarepair) -- (dnadamresp);
\draw[isa] (regdnametab) -- (regnbmetab);
\draw[isa] (dnarecomb) -- (dnametab);
\draw[isa] (regdnarepair) -- (regdnametab);
\draw[isa] (regdnarepair) -- (regcellrespstress);
\draw[isa] (dsbrepair) -- (dnarepair);
\draw[isa] (recombrepair) -- (dnarepair);
\draw[isa] (recombrepair) -- (dnarecomb);
\draw[isa] (posregdnametab) -- (regdnametab);
\draw[isa] (posregdnametab) -- (posregnbmetab);
\draw[isa] (regdnarecomb) -- (regdnametab);
\draw[isa] (posregdnarepair) -- (regdnarepair);
\draw[isa] (posregdnarepair) -- (posregdnametab);
\draw[isa] (posregdnarepair) -- (posregrespstim);
\draw[isa] (regdsbrepair) -- (regdnarepair);
\draw[isa] (dsbhr) -- (dsbrepair);
\draw[isa] (dsbhr) -- (recombrepair);
\draw[isa] (posregdnarecomb) -- (regdnarecomb);
\draw[isa] (posregdnarecomb) -- (posregdnametab);
\draw[isa] (posregdsbrepair) -- (regdsbrepair);
\draw[isa] (posregdsbrepair) -- (posregdnarepair);
\draw[isa] (regdsbhr) -- (regdsbrepair);
\draw[isa] (regdsbhr) -- (regdnarecomb);
\draw[isa] (posregdsbhr) -- (regdsbhr);
\draw[isa] (posregdsbhr) -- (posregdsbrepair);
\draw[isa] (posregdsbhr) -- (posregdnarecomb);
\draw[isa] (cellloc) -- (localization);
\draw[isa] (cellloc) -- (cellproc);
\draw[isa] (estloc) -- (localization);
\draw[isa] (estloccell) -- (estloc);
\draw[isa] (transport) -- (estloc);
\draw[isa] (inttransport) -- (estloccell);
\draw[isa] (inttransport) -- (transport);
\draw[isa] (inttransport) -- (cellloc);
\draw[isa] (vestransport) -- (transport);
\draw[isa] (endotransport) -- (inttransport);
\draw[isa] (endotransport) -- (vestransport);
\draw[partof] (cytoplasm) -- (ias);
\draw[partof] (cytosol) -- (cytoplasm);
\draw[partof] (iorganelle) -- (ias);
\draw[partof] (plasmamem) -- (periphery);
\draw[partof] (orgmem) -- (mborg);
\draw[partof] (vesmem) -- (vesicle);
\draw[partof] (pcfiber) -- (cytoskel);
\draw[partof] (cpvesicle) -- (cytoplasm);
\draw[partof] (actfil) -- (actcytosk);
\draw[partof] (dnadamsite) -- (chromosome);
\draw[partof] (ccassembly) -- (ccbiog);
\draw[partof] (sigtrans) -- (signaling);
\draw[partof] (sigtrans) -- (cellcomm);
\draw[partof] (sigtrans) -- (cellrespstim);
\draw[partof] (actfilorg) -- (actcytoskorg);
\draw[partof] (tcellantigen) -- (tcellimm);
\draw[partof] (resptypeII) -- (innateimm);
\draw[partof] (estloccell) -- (cellloc);
\draw[partof] (natranscr) -- (geneexpr);
\draw[reg] (regbp) -- (bp);
\draw[reg] (reglocom) -- (locomotion);
\draw[reg] (regcellmot) -- (cellmot);
\draw[reg] (regafbproc) -- (afbproc);
\draw[reg] (regcp) -- (cellproc);
\draw[reg] (regcco) -- (cco);
\draw[reg] (regccbiog) -- (ccbiog);
\draw[reg] (regorgorg) -- (orgorg);
\draw[reg] (regsmforg) -- (smforg);
\draw[reg] (regcporg) -- (cporg);
\draw[reg] (regcytoskorg) -- (cytoskorg);
\draw[reg] (regcpassembly) -- (cpassembly);
\draw[reg] (regpmbcporg) -- (pmbcporg);
\draw[reg] (regactcytoskorg) -- (actcytoskorg);
\draw[reg] (regpmbcpassembly) -- (pmbcpassembly);
\draw[reg] (reglamorg) -- (lamorg);
\draw[reg] (regactomyorg) -- (actomyorg);
\draw[reg] (regactfilorg) -- (actfilorg);
\draw[reg] (reglamassembly) -- (lamassembly);
\draw[reg] (regactpoly) -- (actpoly);
\draw[reg] (regactnuc) -- (actnuc);
\draw[reg] (regafbundle) -- (afbundleassembly);
\draw[reg] (regarpnuc) -- (arpnuc);
\draw[reg] (regstressfiber) -- (stressfiber);
\draw[reg] (regimmsys) -- (immsys);
\draw[reg] (regrespstim) -- (respstim);
\draw[reg] (regantigen) -- (antigen);
\draw[reg] (regimmeff) -- (immeff);
\draw[reg] (regimmresp) -- (immresp);
\draw[reg] (regrespstress) -- (respstress);
\draw[reg] (regleukimm) -- (leukimm);
\draw[reg] (regadaptimm) -- (adaptimm);
\draw[reg] (regcellrespstress) -- (cellrespstress);
\draw[reg] (reglymphimm) -- (lymphimm);
\draw[reg] (regadaptig) -- (adaptig);
\draw[reg] (regtcellimm) -- (tcellimm);
\draw[reg] (regtcellantigen) -- (tcellantigen);
\draw[reg] (regmetab) -- (metab);
\draw[reg] (regcellmetab) -- (cellmetab);
\draw[reg] (regnitmetab) -- (nitmetab);
\draw[reg] (regprimmetab) -- (primmetab);
\draw[reg] (regbiosynth) -- (biosynth);
\draw[reg] (regnbmetab) -- (nbmetab);
\draw[reg] (regcellbiosynth) -- (cellbiosynth);
\draw[reg] (regmacrometab) -- (macrometab);
\draw[reg] (regmacrosynth) -- (macrosynth);
\draw[reg] (reggeneexpr) -- (geneexpr);
\draw[reg] (regrnametab) -- (rnametab);
\draw[reg] (regrnasynth) -- (rnasynth);
\draw[reg] (regnatranscr) -- (natranscr);
\draw[reg] (regdnatranscr) -- (dnatranscr);
\draw[reg] (regrnapol2) -- (rnapol2);
\draw[reg] (regdnametab) -- (dnametab);
\draw[reg] (regdnarepair) -- (dnarepair);
\draw[reg] (regdnarecomb) -- (dnarecomb);
\draw[reg] (regdsbrepair) -- (dsbrepair);
\draw[reg] (regdsbhr) -- (dsbhr);
\draw[negreg] (negregbp) -- (bp);
\draw[negreg] (negreglocom) -- (locomotion);
\draw[negreg] (negregcellmot) -- (cellmot);
\draw[negreg] (negregcp) -- (cellproc);
\draw[negreg] (negregcco) -- (cco);
\draw[negreg] (negregorgorg) -- (orgorg);
\draw[negreg] (negregsmforg) -- (smforg);
\draw[negreg] (negregcytoskorg) -- (cytoskorg);
\draw[negreg] (negregafbundle) -- (afbundleassembly);
\draw[negreg] (negregstressfiber) -- (stressfiber);
\draw[posreg] (posregbp) -- (bp);
\draw[posreg] (posregcp) -- (cellproc);
\draw[posreg] (posregcco) -- (cco);
\draw[posreg] (posregorgorg) -- (orgorg);
\draw[posreg] (posregsmforg) -- (smforg);
\draw[posreg] (posregcytoskorg) -- (cytoskorg);
\draw[posreg] (posregactnuc) -- (actnuc);
\draw[posreg] (posregarpnuc) -- (arpnuc);
\draw[posreg] (posregrespstim) -- (respstim);
\draw[posreg] (posregmetab) -- (metab);
\draw[posreg] (posregcellmetab) -- (cellmetab);
\draw[posreg] (posregnitmetab) -- (nitmetab);
\draw[posreg] (posregbiosynth) -- (biosynth);
\draw[posreg] (posregnbmetab) -- (nbmetab);
\draw[posreg] (posregcellbiosynth) -- (cellbiosynth);
\draw[posreg] (posregmacrometab) -- (macrometab);
\draw[posreg] (posregmacrosynth) -- (macrosynth);
\draw[posreg] (posregrnametab) -- (rnametab);
\draw[posreg] (posregrnasynth) -- (rnasynth);
\draw[posreg] (posregnatranscr) -- (natranscr);
\draw[posreg] (posregdnatranscr) -- (dnatranscr);
\draw[posreg] (posregrnapol2) -- (rnapol2);
\draw[posreg] (posregdnametab) -- (dnametab);
\draw[posreg] (posregdnarepair) -- (dnarepair);
\draw[posreg] (posregdnarecomb) -- (dnarecomb);
\draw[posreg] (posregdsbrepair) -- (dsbrepair);
\draw[posreg] (posregdsbhr) -- (dsbhr);
\end{scope}
\end{tikzpicture}
\end{document}
